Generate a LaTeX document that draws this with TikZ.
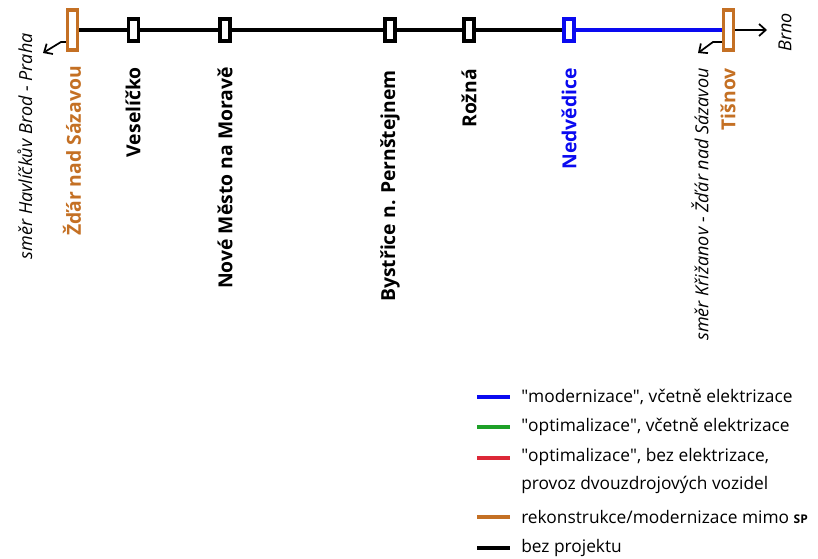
\documentclass[tikz,border=0pt]{standalone}
\usepackage{fontspec}
\setmainfont{Open Sans}
\usetikzlibrary{arrows.meta}
\definecolor{orng}{RGB}{196,112,36}
\definecolor{blu}{RGB}{10,10,240}
\definecolor{grn}{RGB}{30,160,40}
\definecolor{rd}{RGB}{220,40,55}
\begin{document}
\begin{tikzpicture}[x=0.75pt,y=-0.75pt,
 stn/.style={draw, line width=2.3pt, fill=white, minimum width=7.5pt, minimum height=16.5pt, inner sep=0pt},
 bigstn/.style={stn, minimum height=30pt, draw=orng},
 lbl/.style={rotate=90, anchor=east, font=\fontsize{14.5}{17}\selectfont\bfseries, inner sep=0pt},
 dirl/.style={rotate=90, anchor=east, font=\fontsize{13.5}{16}\selectfont\itshape, inner sep=0pt},
 trk/.style={line width=2.6pt},
 arr/.style={line width=1.3pt, -{Straight Barb[length=5pt,width=9pt]}},
 leg/.style={line width=3pt},
 legt/.style={anchor=west, font=\fontsize{13}{15}\selectfont, inner sep=0pt}]
\useasboundingbox (0,0) rectangle (818,559);

% stations
\node[bigstn] (zdar) at (72.5,30) {};
\node[stn] (ves) at (133.5,30) {};
\node[stn] (nm) at (225,30) {};
\node[stn] (byst) at (390,30) {};
\node[stn] (roz) at (469,30) {};
\node[stn, draw=blu] (ned) at (569,30) {};
\node[bigstn] (tis) at (728.5,30) {};

% track
\draw[trk] (zdar.east) -- (ves.west);
\draw[trk] (ves.east) -- (nm.west);
\draw[trk] (nm.east) -- (byst.west);
\draw[trk] (byst.east) -- (roz.west);
\draw[trk] (roz.east) -- (ned.west);
\draw[trk, blu] (ned.east) -- (tis.west);

% arrows
\coordinate (brno) at (767,30);
\draw[arr] (tis.east) -- (brno);
\coordinate (zk) at (61,42);
\coordinate (zend) at (43,53);
\draw[arr] ([yshift=-9pt]zdar.west) -- (zk) -- (zend);
\coordinate (tk) at (713,42);
\coordinate (tend) at (698,53);
\draw[arr] ([yshift=-9pt]tis.west) -- (tk) -- (tend);

% labels
\node[lbl, text=orng] (lzdar) at (72,66) {Žďár nad Sázavou};
\node[lbl] (lves) at (133,67) {Veselíčko};
\node[lbl] (lnm) at (225,67) {Nové Město na Moravě};
\node[lbl] (lbyst) at (390,70) {Bystřice n. Pernštejnem};
\node[lbl] (lroz) at (469,69) {Rožná};
\node[lbl, text=blu] (lned) at (569,68) {Nedvědice};
\node[lbl, text=orng] (ltis) at (728,68) {Tišnov};

\node[dirl] (dhb) at (25,33) {směr Havlíčkův Brod - Praha};
\node[dirl] (dkr) at (700,68) {směr Křižanov - Žďár nad Sázavou};
\node[dirl] (dbrno) at (785,13) {Brno};

% legend
\draw[leg, blu] (477,397) -- (510,397);
\node[legt] (t1) at (521,397) {\textquotedbl modernizace\textquotedbl, včetně elektrizace};
\draw[leg, grn] (477,427) -- (510,427);
\node[legt] (t2) at (521,427) {\textquotedbl optimalizace\textquotedbl, včetně elektrizace};
\draw[leg, rd] (477,458) -- (510,458);
\node[legt] (t3) at (521,457) {\textquotedbl optimalizace\textquotedbl, bez elektrizace,};
\node[legt] (t3b) at (521,485) {provoz dvouzdrojových vozidel};
\draw[leg, orng] (477,517) -- (510,517);
\node[legt] (t4) at (521,517) {rekonstrukce/modernizace mimo {\fontsize{9}{10}\selectfont\bfseries SP}};
\draw[leg] (477,548) -- (510,548);
\node[legt] (t5) at (521,548) {bez projektu};
\end{tikzpicture}
\end{document}
